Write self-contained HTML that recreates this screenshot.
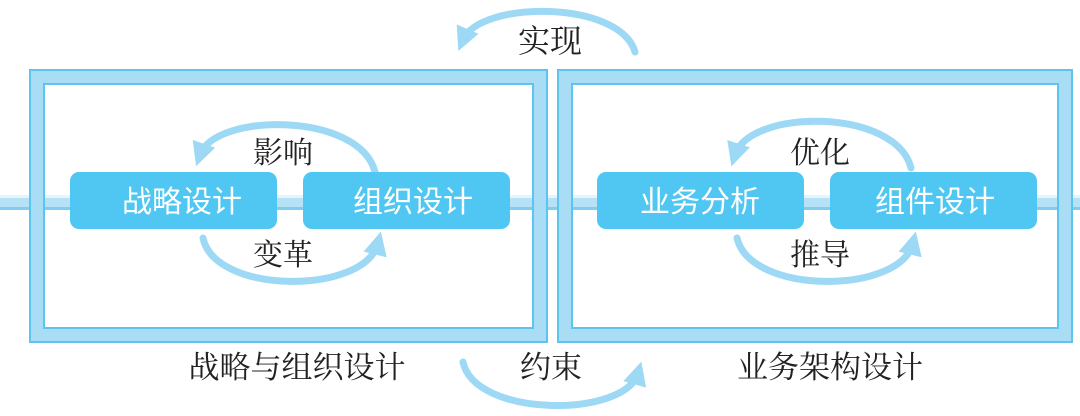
<!DOCTYPE html>
<html><head><meta charset="utf-8"><style>
html,body{margin:0;padding:0;background:#fff;width:1080px;height:416px;overflow:hidden}
svg{display:block}
.t{font-family:"Liberation Serif","Noto Serif CJK SC",serif;fill:#222}
.b{font-family:"Liberation Sans","Noto Sans CJK SC",sans-serif;fill:#fff;font-size:30px}
</style></head><body>
<svg width="1080" height="416" viewBox="0 0 1080 416" xmlns="http://www.w3.org/2000/svg">
<defs>
<marker id="ah" markerWidth="3.4" markerHeight="3.4" refX="1.7" refY="1.7" orient="auto" markerUnits="strokeWidth">
<path d="M0,0 L3.4,1.7 L0,3.4 z" fill="#9dd9f5"/></marker>
</defs>
<rect x="0" y="195" width="1080" height="15" fill="#b5e2f7"/>
<rect x="0" y="195" width="1080" height="3" fill="#e4f5fd"/>
<rect x="0" y="207" width="1080" height="3" fill="#7fcdef"/>
<g fill="none">
<rect x="37" y="77" width="503" height="258" stroke="#a9dcf5" stroke-width="15"/>
<rect x="30" y="70" width="517" height="272" stroke="#5cc4ef" stroke-width="2"/>
<rect x="44" y="84" width="489" height="244" stroke="#5cc4ef" stroke-width="2"/>
<rect x="565" y="77" width="500" height="258" stroke="#a9dcf5" stroke-width="15"/>
<rect x="558" y="70" width="514" height="272" stroke="#5cc4ef" stroke-width="2"/>
<rect x="572" y="84" width="486" height="244" stroke="#5cc4ef" stroke-width="2"/>
</g>
<g fill="none" stroke="#9dd9f5" stroke-width="7" stroke-linecap="round">
<path d="M635,52 C620,0 480,0 463,40" marker-end="url(#ah)"/>
<path d="M463,362 C475,418 625,418 638,373" marker-end="url(#ah)"/>
<path d="M375,172 C360,112 215,112 200,155" marker-end="url(#ah)"/>
<path d="M203,238 C215,295 365,295 378,243" marker-end="url(#ah)"/>
<path d="M911,168 C896,108 750,108 735,155" marker-end="url(#ah)"/>
<path d="M737,238 C750,295 900,295 913,243" marker-end="url(#ah)"/>
</g>
<g fill="#50c7f2">
<rect x="70" y="172" width="207" height="57" rx="9"/>
<rect x="303" y="172" width="207" height="57" rx="9"/>
<rect x="597" y="172" width="207" height="57" rx="9"/>
<rect x="830" y="172" width="207" height="57" rx="9"/>
</g>
<g class="b" text-anchor="middle">
<text x="182" y="212">战略设计</text>
<text x="413" y="212">组织设计</text>
<text x="700" y="212">业务分析</text>
<text x="935" y="212">组件设计</text>
</g>
<g class="t" text-anchor="middle">
<text x="550" y="52" font-size="32">实现</text>
<text x="283" y="163" font-size="30">影响</text>
<text x="283" y="265" font-size="30">变革</text>
<text x="820" y="163" font-size="30">优化</text>
<text x="820" y="265" font-size="30">推导</text>
<text x="297" y="378" font-size="31">战略与组织设计</text>
<text x="551" y="378" font-size="31">约束</text>
<text x="830" y="378" font-size="31">业务架构设计</text>
</g>
</svg>
</body></html>
